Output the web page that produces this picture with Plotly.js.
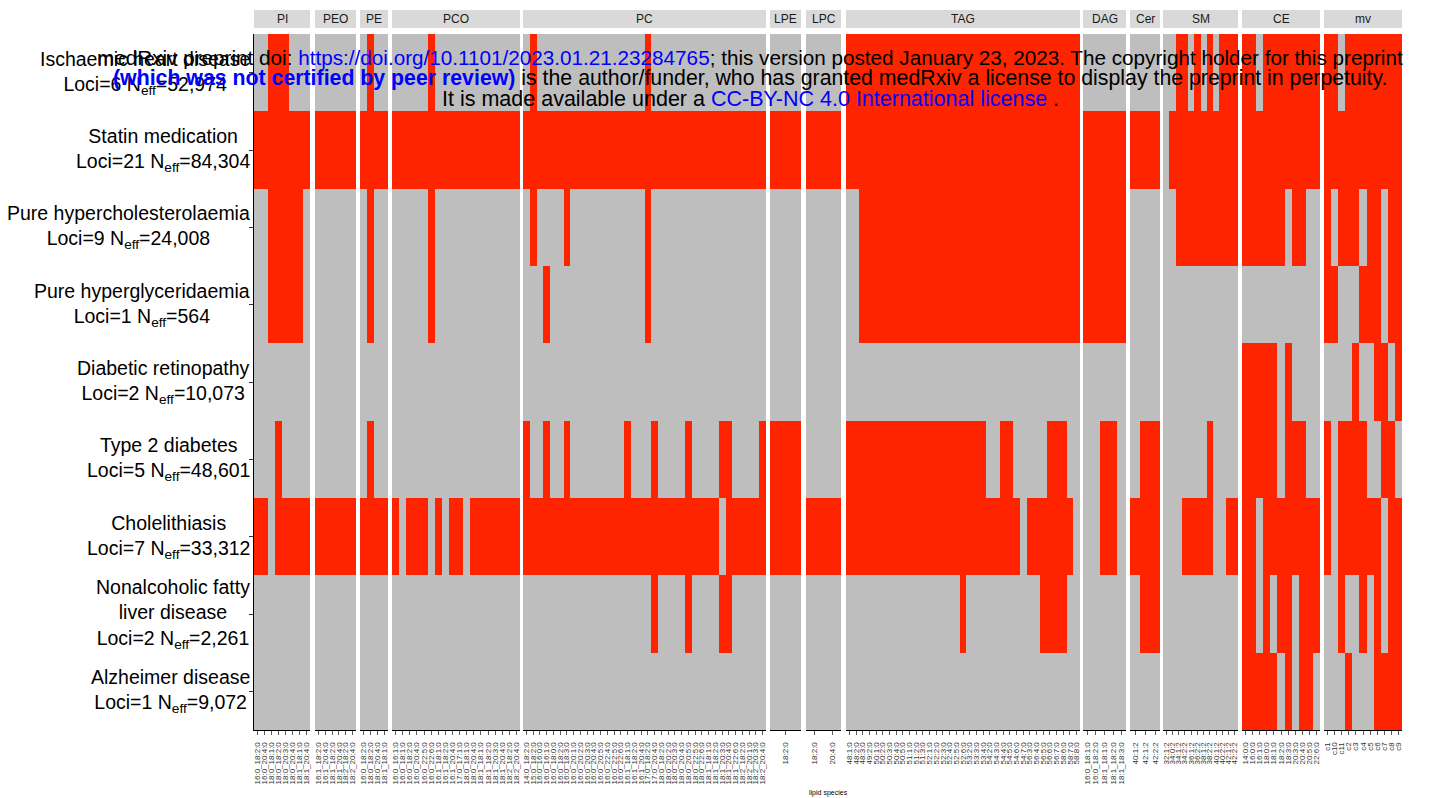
<!DOCTYPE html>
<html>
<head>
<meta charset="utf-8">
<script src="https://cdn.plot.ly/plotly-3.0.1.min.js"></script>
<style>html,body{margin:0;padding:0;background:#fff;}#chart{width:1436px;height:798px;}</style>
</head>
<body>
<div id="chart"></div>
<script>
// ---- data ----
const rowNames = [
  "Ischaemic heart disease<br>Loci=6 N<sub>eff</sub>=52,974",
  "Statin medication<br>Loci=21 N<sub>eff</sub>=84,304",
  "Pure hypercholesterolaemia<br>Loci=9 N<sub>eff</sub>=24,008",
  "Pure hyperglyceridaemia<br>Loci=1 N<sub>eff</sub>=564",
  "Diabetic retinopathy<br>Loci=2 N<sub>eff</sub>=10,073",
  "Type 2 diabetes<br>Loci=5 N<sub>eff</sub>=48,601",
  "Cholelithiasis<br>Loci=7 N<sub>eff</sub>=33,312",
  "Nonalcoholic fatty<br>liver disease<br>Loci=2 N<sub>eff</sub>=2,261",
  "Alzheimer disease<br>Loci=1 N<sub>eff</sub>=9,072"
];
const facetNames = ["PI","PEO","PE","PCO","PC","LPE","LPC","TAG","DAG","Cer","SM","CE","mv"];

const labPI  = ["16:0_18:2:0","16:0_20:4:0","18:0_18:1:0","18:0_18:2:0","18:0_20:3:0","18:0_20:4:0","18:1_18:1:0","18:1_20:4:0"];
const labPEO = ["16:1_18:2:0","16:1_20:4:0","18:1_18:2:0","18:1_20:4:0","18:2_18:2:0","18:2_20:4:0"];
const labPE  = ["16:0_18:2:0","18:0_18:2:0","18:0_20:4:0","18:1_18:1:0"];
const labPCO = ["16:0_16:1:0","16:0_18:1:0","16:0_18:2:0","16:0_20:4:0","16:0_22:5:0","16:0_22:6:0","16:1_18:1:0","16:1_18:2:0","16:1_20:4:0","17:0_17:1:0","18:0_18:1:0","18:0_20:4:0","18:1_18:1:0","18:1_18:2:0","18:1_20:3:0","18:1_20:4:0","18:2_18:2:0","18:2_20:4:0"];
const labPC  = ["14:0_18:2:0","15:0_18:2:0","16:0_16:0:0","16:0_16:1:0","16:0_18:0:0","16:0_18:2:0","16:0_18:3:0","16:0_20:1:0","16:0_20:2:0","16:0_20:3:0","16:0_20:4:0","16:0_20:5:0","16:0_22:4:0","16:0_22:5:0","16:0_22:6:0","16:1_18:1:0","16:1_18:2:0","16:1_20:4:0","17:0_18:2:0","17:0_20:4:0","18:0_18:2:0","18:0_20:2:0","18:0_20:3:0","18:0_20:4:0","18:0_20:5:0","18:0_22:5:0","18:0_22:6:0","18:1_18:1:0","18:1_18:2:0","18:1_20:3:0","18:1_20:4:0","18:1_22:6:0","18:2_18:2:0","18:2_20:1:0","18:2_20:3:0","18:2_20:4:0"];
const labLPE = ["18:2:0"];
const labLPC = ["18:2:0","20:4:0"];
const labTAG = ["48:1:0","48:2:0","48:3:0","49:2:0","50:1:0","50:2:0","50:3:0","50:4:0","50:5:0","51:1:0","51:2:0","51:3:0","52:1:0","52:2:0","52:3:0","52:4:0","52:5:0","52:6:0","53:2:0","53:3:0","53:4:0","54:2:0","54:3:0","54:4:0","54:5:0","54:6:0","54:7:0","56:3:0","56:4:0","56:5:0","56:6:0","56:7:0","58:6:0","58:7:0","58:8:0"];
const labDAG = ["16:0_18:1:0","16:0_18:2:0","18:1_18:1:0","18:1_18:2:0","18:1_18:3:0"];
const labCer = ["40:1:2","42:1:2","42:2:2"];
const labSM  = ["32:1:2","34:0:2","34:1:2","34:2:2","36:1:2","36:2:2","38:1:2","38:2:2","40:1:2","40:2:2","42:1:2","42:2:2"];
const labCE  = ["14:0:0","16:0:0","16:1:0","18:0:0","18:1:0","18:2:0","18:3:0","20:3:0","20:4:0","20:5:0","22:6:0"];
const labMV  = ["c1","c10","c11","c2","c3","c4","c5","c6","c7","c8","c9"];

// 1 = associated (red), 0 = not (grey); one string per disease row, one char per lipid
const cellsPI  = ["00111000","11111111","00111110","00111110","00000000","00010000","11011111","00000000","00000000"];
const cellsPEO = ["000000","111111","000000","000000","000000","000000","111111","000000","000000"];
const cellsPE  = ["0100","1111","0100","0100","0000","0100","1111","0000","0000"];
const cellsPCO = ["000001000000000000","111111111111111111","000001000000000000","000001000000000000","000000000000000000","000000000000000000","101110101101111111","000000000000000000","000000000000000000"];
const cellsPC  = [
  "010000 000000 000000 100000 000000 000000",
  "111111 111111 111111 111111 111111 111111",
  "010000 100000 000000 100000 000000 000000",
  "000100 000000 000000 100000 000000 000000",
  "000000 000000 000000 000000 000000 000000",
  "100100 100000 000100 010000 100001 100001",
  "111111 111111 111111 111111 111110 111111",
  "000000 000000 000000 010000 100001 100000",
  "000000 000000 000000 000000 000000 000000"];
const cellsLPE = ["0","1","0","0","0","1","1","0","0"];
const cellsLPC = ["00","11","00","00","00","00","11","00","00"];
const cellsTAG = [
  "11111 11111 11111 11111 11111 11111 11111",
  "11111 11111 11111 11111 11111 11111 11111",
  "00111 11111 11111 11111 11111 11111 11111",
  "00111 11111 11111 11111 11111 11111 11111",
  "00000 00000 00000 00000 00000 00000 00000",
  "11111 11111 11111 11111 10011 00000 11100",
  "11111 11111 11111 11111 11111 10111 11110",
  "00000 00000 00000 00100 00000 00001 11100",
  "00000 00000 00000 00000 00000 00000 00000"];
const cellsDAG = ["00000","11111","11111","11111","00000","00110","00110","00000","00000"];
const cellsCer = ["000","111","000","000","000","011","111","011","000"];
const cellsSM  = ["001101010111","011111111111","001111111111","000000000000","000000000000","000000010000","000111110011","000000000000","000000000000"];
const cellsCE  = ["11011111111","11111111111","11111101100","00000000000","11111010000","11111011100","11011111111","11010110111","11111010110"];
const cellsMV  = ["11011111111","11111111111","10111011011","11000111011","00001001101","10111100110","10111111011","00100101011","00010001111"];

// ---- layout helpers ----
const W = 1436, H = 798;
const L = 254, R = 1402, T = 34, B = 730;
const facetLabs = [labPI,labPEO,labPE,labPCO,labPC,labLPE,labLPC,labTAG,labDAG,labCer,labSM,labCE,labMV];
const facetCells = [cellsPI,cellsPEO,cellsPE,cellsPCO,cellsPC,cellsLPE,cellsLPC,cellsTAG,cellsDAG,cellsCer,cellsSM,cellsCE,cellsMV];
const facetPx = [[254,310],[315,356],[360,388],[392,520],[523,766],[770,801],[806,841],[846,1080],[1083,1126],[1130,1160],[1163,1238],[1242,1320],[1324,1402]];

const RED = "#FF2400", GREY = "#BEBEBE";
const traces = [];
const layout = {
  width: W, height: H,
  margin: {l: L, r: W - R, t: T, b: H - B, pad: 0},
  paper_bgcolor: "#FFFFFF", plot_bgcolor: "#FFFFFF",
  font: {family: "Liberation Sans, Arial, sans-serif", color: "#000"},
  showlegend: false,
  annotations: [], shapes: [],
  yaxis: {
    domain: [0, 1], range: [rowNames.length - 0.5, -0.5],
    tickvals: rowNames.map((_, i) => i), showticklabels: false,
    ticks: "outside", ticklen: 4, tickcolor: "#333", tickwidth: 1,
    showline: true, linecolor: "#000", linewidth: 1, showgrid: false, zeroline: false
  }
};
const py = p => (B - p) / (B - T);
const px = p => (p - L) / (R - L);

facetNames.forEach((name, k) => {
  const labs = facetLabs[k];
  const z = facetCells[k].map(s => s.replace(/ /g, "").split("").map(Number));
  const ax = k === 0 ? "" : String(k + 1);
  traces.push({
    type: "heatmap", x: labs, y: rowNames.map((_, i) => i), z: z,
    xaxis: "x" + ax, yaxis: "y",
    zmin: 0, zmax: 1, colorscale: [[0, GREY], [0.5, GREY], [0.5, RED], [1, RED]],
    showscale: false, hoverinfo: "x+z"
  });
  layout["xaxis" + ax] = {
    domain: [px(facetPx[k][0]), px(facetPx[k][1])],
    range: [-0.5, labs.length - 0.5], type: "category",
    tickmode: "array", tickvals: labs, ticktext: labs,
    tickangle: -90, tickfont: {size: 8, color: "#333333"},
    ticks: "outside", ticklen: 4, tickcolor: "#333", tickwidth: 0.8,
    ticklabelstandoff: 4,
    showline: true, linecolor: "#000", linewidth: 1, showgrid: false, zeroline: false,
    anchor: "y", fixedrange: true
  };
  const xr = "x" + ax + " domain";
  layout.shapes.push({type: "rect", xref: xr, yref: "paper", x0: 0, x1: 1, y0: py(28), y1: py(10),
    fillcolor: "#D9D9D9", line: {width: 0}, layer: "below"});
  layout.annotations.push({xref: xr, yref: "paper", x: 0.5, y: py(19), text: name, showarrow: false,
    xanchor: "center", yanchor: "middle", font: {size: 12, color: "#1A1A1A"}});
});

rowNames.forEach((r, i) => {
  layout.annotations.push({xref: "paper", yref: "y", x: 0, y: i, xanchor: "right", yanchor: "middle",
    xshift: -2, align: "center", text: r, showarrow: false, font: {size: 19.5, color: "#000"}});
});

layout.annotations.push({xref: "paper", yref: "paper", x: px(828), y: py(793), text: "lipid species",
  showarrow: false, xanchor: "center", yanchor: "middle", font: {size: 7, color: "#000"}});

// medRxiv watermark
const wm = [
  "medRxiv preprint doi: <span style='color:#0000FF'>https://doi.org/10.1101/2023.01.21.23284765</span>; this version posted January 23, 2023. The copyright holder for this preprint",
  "<b><span style='color:#0000FF'>(which was not certified by peer review)</span></b> is the author/funder, who has granted medRxiv a license to display the preprint in perpetuity.",
  "It is made available under a <span style='color:#0000FF'>CC-BY-NC 4.0 International license</span> ."
];
const wmY = [58, 78, 99];
const wmSize = [20.7, 21.3, 21.5];
wm.forEach((t, i) => {
  layout.annotations.push({xref: "paper", yref: "paper", x: px(750), y: py(wmY[i]), text: t, showarrow: false,
    xanchor: "center", yanchor: "middle", font: {size: wmSize[i], color: "#000"}});
});

Plotly.newPlot("chart", traces, layout, {staticPlot: true});
</script>
</body>
</html>
